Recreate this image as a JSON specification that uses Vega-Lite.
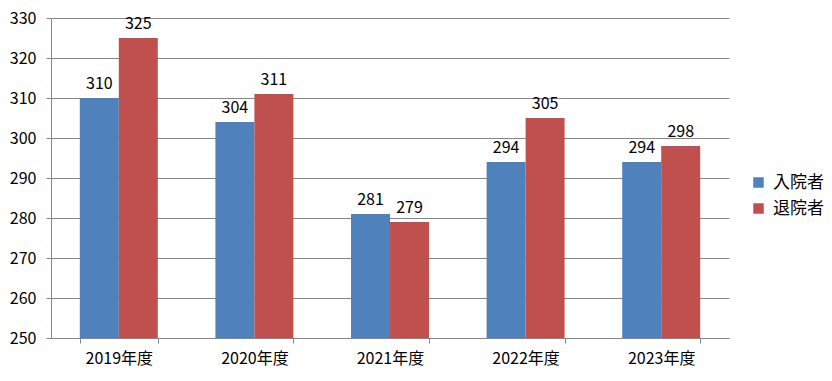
{
  "$schema": "https://vega.github.io/schema/vega-lite/v6.json",
  "width": 678,
  "height": 320,
  "autosize": {"type": "none"},
  "padding": {"left": 51, "top": 18, "right": 103, "bottom": 43},
  "background": "white",
  "config": {
    "font": "Noto Sans CJK JP",
    "view": {"stroke": null},
    "axis": {"labelFont": "Noto Sans CJK JP", "labelFontSize": 16, "labelColor": "#000000", "domainColor": "#868686", "tickColor": "#868686", "gridColor": "#868686", "title": null}
  },
  "data": {
    "values": [
      {"year": "2019年度", "type": "入院者", "value": 310},
      {"year": "2019年度", "type": "退院者", "value": 325},
      {"year": "2020年度", "type": "入院者", "value": 304},
      {"year": "2020年度", "type": "退院者", "value": 311},
      {"year": "2021年度", "type": "入院者", "value": 281},
      {"year": "2021年度", "type": "退院者", "value": 279},
      {"year": "2022年度", "type": "入院者", "value": 294},
      {"year": "2022年度", "type": "退院者", "value": 305},
      {"year": "2023年度", "type": "入院者", "value": 294},
      {"year": "2023年度", "type": "退院者", "value": 298}
    ]
  },
  "encoding": {
    "x": {
      "field": "year", "type": "nominal", "sort": null,
      "scale": {"paddingInner": 0.425, "paddingOuter": 0.2125},
      "axis": {"labelAngle": 0, "tickBand": "extent", "tickSize": 5, "labelPadding": 7, "grid": false}
    },
    "xOffset": {"field": "type", "type": "nominal", "sort": ["入院者", "退院者"], "scale": {"paddingInner": 0, "paddingOuter": 0}},
    "y": {
      "field": "value", "type": "quantitative",
      "scale": {"domain": [250, 330], "zero": false, "nice": false},
      "axis": {"values": [250, 260, 270, 280, 290, 300, 310, 320, 330], "tickSize": 5, "labelPadding": 10, "grid": true, "domain": true}
    }
  },
  "layer": [
    {
      "mark": {"type": "bar"},
      "encoding": {
        "y2": {"datum": 250},
        "color": {
          "field": "type", "type": "nominal", "sort": ["入院者", "退院者"],
          "scale": {"domain": ["入院者", "退院者"], "range": ["#4F81BD", "#C0504D"]},
          "legend": {
            "title": null, "orient": "none", "legendX": 699, "legendY": 156,
            "symbolType": "square", "symbolSize": 110, "symbolStrokeWidth": 0,
            "labelFontSize": 17, "labelFont": "Noto Sans CJK JP", "labelColor": "#000000",
            "rowPadding": 8, "labelOffset": 6
          }
        }
      }
    },
    {
      "mark": {"type": "text", "baseline": "alphabetic", "dy": -9, "fontSize": 16, "color": "#000000"},
      "encoding": {"text": {"field": "value", "type": "quantitative"}}
    }
  ]
}
